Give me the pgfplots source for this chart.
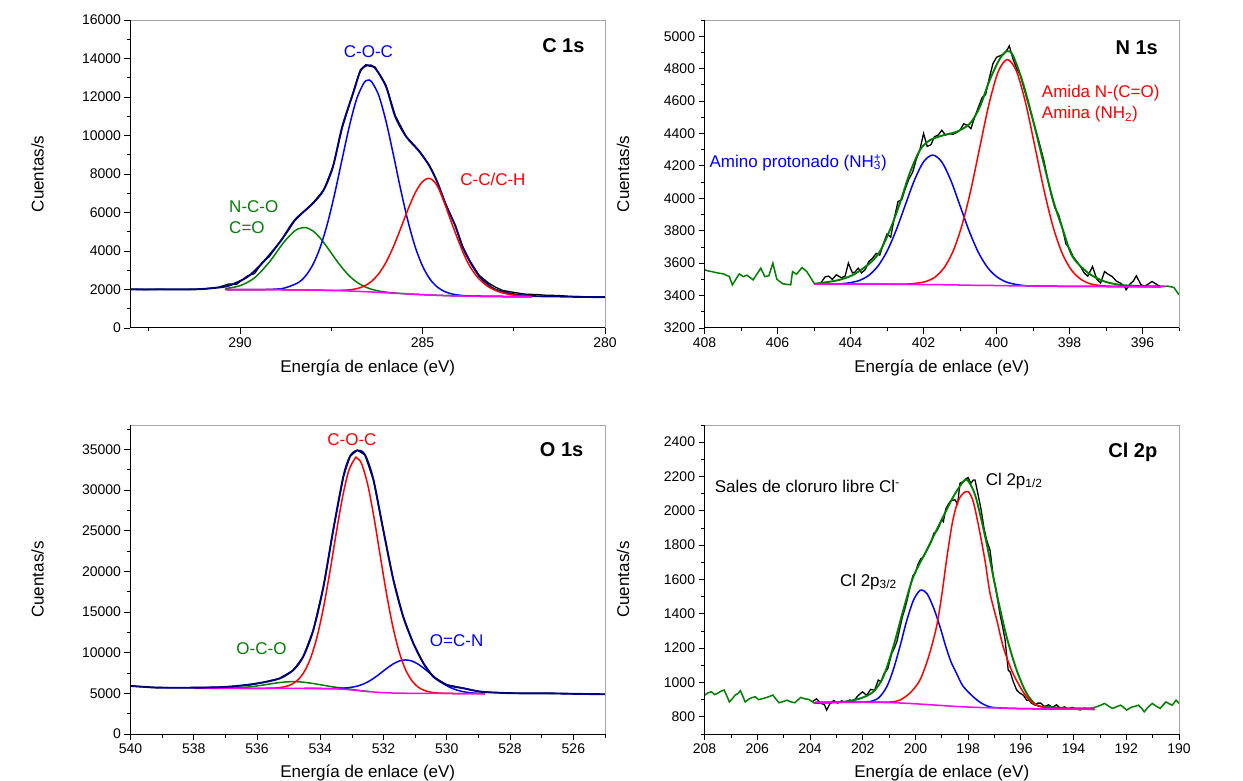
\documentclass[border=0pt]{standalone}
\usepackage{fontspec}
\setmainfont{Liberation Sans}
\usepackage{pgfplots}
\pgfplotsset{compat=1.18}
\definecolor{navyc}{RGB}{0,0,128}
\definecolor{greenc}{RGB}{0,128,0}
\definecolor{bluec}{RGB}{0,0,255}
\definecolor{redc}{RGB}{255,0,0}
\definecolor{magc}{RGB}{255,0,255}
\pgfplotsset{xps/.style={
  scale only axis, x dir=reverse, axis line style={draw=none},
  tick align=outside, xtick pos=bottom, ytick pos=left,
  major tick length=6pt, minor tick length=3.5pt,
  tick style={black, line width=0.8pt},
  tick label style={font=\fontsize{14}{16}\selectfont},
  label style={font=\fontsize{17}{20}\selectfont},
  scaled ticks=false,
  /pgf/number format/1000 sep={},
  /pgf/number format/assume math mode=true,
  ylabel={Cuentas/s}, xlabel={Energía de enlace (eV)},
}}
\tikzset{
  comp/.style={line width=1.5pt, smooth},
  env/.style={line width=1.9pt, smooth},
  dat/.style={line width=1.3pt, black},
  ann/.style={font=\fontsize{17}{20}\selectfont, inner sep=0pt},
  ttl/.style={font=\bfseries\fontsize{20}{24}\selectfont, inner sep=0pt},
}
\newcommand{\frameaxis}[1]{%
  \draw[black!35, line width=0.7pt] (#1.north west) -- (#1.north east) -- (#1.south east);
  \draw[black, line width=1pt] (#1.north west) -- (#1.south west) -- (#1.south east);}
\begin{document}
\begin{tikzpicture}
\useasboundingbox (0,0) rectangle (1243pt,780pt);
% ---------------- C 1s ----------------
\begin{axis}[xps, name=c1s, at={(130.5pt,452pt)}, anchor=south west,
  width=474.5pt, height=308pt, xmin=280, xmax=293, ymin=0, ymax=16000,
  xtick={280,285,290}, minor xtick={282.5,287.5,292.5},
  ytick={0,2000,...,16000}, minor ytick={1000,3000,...,15000},
  ylabel style={at={(axis description cs:-0.196,0.5)}, anchor=center},
  xlabel style={at={(axis description cs:0.5,-0.13)}, anchor=center}]
\addplot[dat] coordinates {(293.0,2020) (292.6,1990) (292.2,2010) (291.8,1995) (291.4,2005) (291.0,2030) (290.6,2110) (290.3,2290) (290.1,2260) (289.8,2700) (289.6,2830) (289.4,3380) (289.2,3700) (288.9,4500) (288.7,5000) (288.5,5580) (288.3,5950) (288.0,6500) (287.8,6950) (287.7,7180) (287.45,8400) (287.2,10400) (286.9,12250) (286.7,13420) (286.55,13680) (286.45,13600) (286.3,13560) (286.0,12600) (285.75,11050) (285.45,9950) (285.1,9230) (284.82,8470) (284.6,7620) (284.36,6420) (284.1,5320) (283.91,4280) (283.7,3480) (283.45,2740) (283.2,2350) (283.0,2120) (282.8,1950) (282.5,1850) (282.2,1760) (281.9,1740) (281.6,1700) (281.3,1690) (281.0,1650) (280.6,1620) (280.3,1610) (280.0,1600)};
\addplot[env, navyc] coordinates {(293.0,2010) (292.0,2005) (291.2,2010) (290.7,2080) (290.3,2200) (289.8,2650) (289.4,3350) (288.9,4480) (288.5,5600) (288.0,6480) (287.7,7200) (287.45,8400) (287.2,10450) (286.9,12200) (286.7,13350) (286.5,13650) (286.3,13500) (286.0,12550) (285.75,11000) (285.45,9950) (285.1,9200) (284.82,8450) (284.6,7600) (284.36,6400) (284.1,5300) (283.91,4250) (283.7,3450) (283.45,2700) (283.2,2250) (282.99,1990) (282.54,1770) (282.0,1660) (281.4,1640) (280.7,1615) (280.0,1600)};
\addplot[comp, greenc] coordinates {(290.4,2048) (290.0,2196) (289.6,2610) (289.2,3417) (288.8,4451) (288.5,5047) (288.35,5180) (288.2,5218) (288.0,5040) (287.8,4663) (287.6,4165) (287.4,3625) (287.2,3123) (287.0,2700) (286.8,2382) (286.6,2160) (286.4,2015) (286.2,1922) (286.0,1862) (285.8,1824) (285.6,1795) (285.4,1772) (285.0,1732) (284.5,1692) (284.0,1665) (283.0,1640) (282.0,1625)};
\addplot[comp, bluec] coordinates {(290.4,2000) (290.0,1998) (289.6,1997) (289.2,2005) (288.8,2066) (288.4,2360) (288.2,2713) (288.0,3303) (287.8,4203) (287.6,5453) (287.4,7024) (287.2,8788) (287.0,10511) (286.8,11923) (286.6,12747) (286.5,12870) (286.4,12808) (286.2,12092) (286.0,10740) (285.8,9022) (285.6,7213) (285.4,5562) (285.2,4214) (285.0,3219) (284.8,2550) (284.6,2136) (284.4,1898) (284.2,1770) (284.0,1705) (283.8,1674) (283.6,1657) (283.4,1649) (283.2,1644) (282.8,1636) (282.4,1630) (282.0,1625)};
\addplot[comp, redc] coordinates {(290.4,2000) (289.0,1989) (288.0,1970) (287.6,1958) (287.4,1955) (287.2,1961) (287.0,1982) (286.8,2043) (286.6,2175) (286.4,2418) (286.2,2818) (286.0,3412) (285.8,4210) (285.6,5161) (285.4,6151) (285.2,7022) (285.0,7603) (284.8,7772) (284.6,7400) (284.4,6500) (284.2,5450) (284.0,4450) (283.8,3550) (283.6,2900) (283.4,2450) (283.2,2150) (283.0,1950) (282.8,1820) (282.6,1740) (282.4,1690) (282.0,1640)};
\addplot[comp, magc] coordinates {(290.4,2000) (290.0,1998) (289.6,1995) (289.2,1992) (288.8,1986) (288.4,1980) (288.0,1970) (287.6,1955) (287.2,1935) (286.8,1905) (286.4,1872) (286.0,1830) (285.6,1790) (285.2,1750) (284.8,1714) (284.4,1686) (284.0,1665) (283.6,1652) (283.2,1644) (282.8,1636) (282.4,1630) (282.0,1625)};
\node[ttl] at (axis cs:281.14,14666) {C 1s};
\node[ann, text=bluec] at (axis cs:286.48,14354) {C-O-C};
\node[ann, text=redc] at (axis cs:283.07,7741) {C-C/C-H};
\node[ann, text=greenc, anchor=west] at (axis cs:290.3,6286) {N-C-O};
\node[ann, text=greenc, anchor=west] at (axis cs:290.3,5195) {C=O};
\end{axis}
\frameaxis{c1s}
% ---------------- N 1s ----------------
\begin{axis}[xps, name=n1s, at={(704.6pt,452pt)}, anchor=south west,
  width=474.4pt, height=308pt, xmin=395, xmax=408, ymin=3200, ymax=5100,
  xtick={396,398,...,408}, minor xtick={395,397,...,407},
  ytick={3200,3400,...,5000}, minor ytick={3300,3500,...,5100},
  ylabel style={at={(axis description cs:-0.172,0.5)}, anchor=center},
  xlabel style={at={(axis description cs:0.5,-0.13)}, anchor=center}]
\addplot[dat] coordinates {(404.95,3470) (404.82,3477) (404.7,3515) (404.6,3520) (404.5,3500) (404.39,3528) (404.25,3510) (404.15,3520) (404.06,3600) (403.95,3540) (403.88,3545) (403.79,3569) (403.7,3540) (403.6,3560) (403.5,3610) (403.4,3630) (403.3,3660) (403.2,3650) (403.1,3720) (403.0,3780) (402.9,3760) (402.8,3880) (402.7,3980) (402.6,3990) (402.5,4060) (402.4,4120) (402.3,4160) (402.2,4240) (402.1,4300) (402.0,4400) (401.9,4320) (401.8,4330) (401.7,4380) (401.6,4390) (401.5,4420) (401.4,4390) (401.3,4400) (401.2,4395) (401.1,4405) (401.0,4420) (400.9,4460) (400.8,4450) (400.7,4430) (400.6,4500) (400.5,4560) (400.4,4620) (400.3,4640) (400.2,4740) (400.1,4830) (400.0,4870) (399.9,4880) (399.8,4890) (399.7,4920) (399.65,4940) (399.55,4860) (399.45,4800) (399.35,4760) (399.2,4640) (399.0,4480) (398.85,4360) (398.7,4230) (398.6,4120) (398.5,4020) (398.4,3940) (398.3,3900) (398.2,3820) (398.1,3720) (398.0,3690) (397.9,3640) (397.8,3610) (397.7,3580) (397.6,3540) (397.5,3520) (397.37,3579) (397.25,3500) (397.15,3477) (397.04,3548) (396.93,3530) (396.83,3517) (396.72,3490) (396.61,3477) (396.5,3460) (396.45,3436) (396.35,3470) (396.25,3490) (396.17,3522) (396.05,3470) (395.96,3456) (395.85,3470) (395.74,3487) (395.62,3470) (395.52,3456) (395.4,3458)};
\addplot[line width=1.5pt, greenc] coordinates {(408.0,3559) (407.9,3552) (407.81,3548) (407.65,3540) (407.49,3534) (407.32,3517) (407.24,3466) (407.05,3534) (406.94,3517) (406.84,3526) (406.67,3497) (406.46,3569) (406.35,3517) (406.24,3522) (406.13,3600) (406.02,3501) (405.86,3473) (405.64,3466) (405.59,3548) (405.48,3532) (405.33,3573) (405.2,3548) (404.99,3473)};
\addplot[env, greenc] coordinates {(404.99,3473) (404.38,3493) (403.93,3528) (403.47,3600) (403.2,3671) (402.92,3805) (402.65,3969) (402.38,4154) (402.1,4297) (401.83,4358) (401.46,4389) (401.1,4410) (400.73,4461) (400.46,4563) (400.19,4728) (399.91,4861) (399.71,4908) (399.55,4881) (399.27,4707) (399.0,4481) (398.73,4235) (398.45,3989) (398.18,3805) (397.92,3641) (397.48,3538) (397.04,3487) (396.61,3466) (396.17,3460) (395.5,3456)};
\addplot[line width=1.5pt, greenc] coordinates {(395.5,3456) (395.3,3458) (395.14,3450) (395.0,3405)};
\addplot[comp, bluec] coordinates {(405.0,3470) (404.5,3471) (404.25,3473) (404.0,3480) (403.75,3494) (403.5,3525) (403.25,3582) (403.0,3674) (402.75,3804) (402.5,3959) (402.25,4112) (402.0,4225) (401.75,4267) (401.5,4224) (401.25,4109) (401.0,3954) (400.75,3798) (400.5,3667) (400.25,3574) (400.0,3517) (399.75,3485) (399.5,3470) (399.25,3462) (399.0,3459) (398.0,3457) (397.0,3456) (395.5,3455)};
\addplot[comp, redc] coordinates {(405.0,3470) (403.2,3470) (402.7,3470) (402.45,3471) (402.2,3476) (401.95,3486) (401.7,3512) (401.45,3568) (401.2,3669) (400.95,3831) (400.7,4056) (400.45,4325) (400.2,4588) (399.95,4784) (399.7,4856) (399.45,4782) (399.2,4585) (398.95,4320) (398.7,4051) (398.45,3823) (398.2,3660) (397.95,3558) (397.7,3502) (397.45,3474) (397.2,3463) (396.95,3458) (396.7,3457) (395.5,3455)};
\addplot[comp, magc] coordinates {(405.0,3470) (404.0,3470) (403.0,3470) (402.5,3469) (402.0,3468) (401.5,3467) (401.0,3465) (400.5,3463) (400.0,3462) (399.5,3460) (399.0,3459) (398.0,3457) (397.0,3456) (396.0,3455) (395.4,3455)};
\node[ttl] at (axis cs:396.16,4932) {N 1s};
\node[ann, text=redc, anchor=west] at (axis cs:398.76,4649) {Amida N-(C=O)};
\node[ann, text=redc, anchor=west] at (axis cs:398.76,4517) {Amina (NH\textsubscript{2})};
\node[ann, text=bluec, anchor=west] at (axis cs:407.87,4221) {Amino protonado (NH$\vphantom{H}$\rlap{\textsuperscript{+}}\textsubscript{3})};
\end{axis}
\frameaxis{n1s}
% ---------------- O 1s ----------------
\begin{axis}[xps, name=o1s, at={(130.5pt,46pt)}, anchor=south west,
  width=474.5pt, height=309pt, xmin=525, xmax=540, ymin=0, ymax=38000,
  xtick={526,528,...,540}, minor xtick={525,527,...,539},
  ytick={0,5000,...,35000}, minor ytick={2500,7500,...,37500},
  ylabel style={at={(axis description cs:-0.196,0.5)}, anchor=center},
  xlabel style={at={(axis description cs:0.5,-0.126)}, anchor=center}]
\addplot[dat] coordinates {(540.0,5950) (539.8,5850) (539.6,5800) (539.4,5740) (539.2,5700) (539.0,5720) (538.6,5680) (538.2,5690) (537.8,5720) (537.4,5740) (537.0,5800) (536.6,5900) (536.2,6050) (535.8,6350) (535.3,6830) (534.85,7850) (534.54,9500) (534.22,12780) (533.9,18100) (533.59,25100) (533.27,31650) (533.06,34150) (532.83,34900) (532.59,34330) (532.32,31250) (532.01,25100) (531.69,18950) (531.38,14430) (531.06,11150) (530.74,8700) (530.43,7050) (530.0,6050) (529.48,5640) (529.0,5250) (528.6,5120) (528.2,5060) (527.8,5020) (527.4,5000) (527.0,5010) (526.6,4990) (526.2,4950) (525.8,4920) (525.4,4900) (525.0,4890)};
\addplot[comp, greenc] coordinates {(537.45,5619) (537.05,5634) (536.65,5681) (536.45,5727) (536.25,5795) (536.05,5885) (535.85,5994) (535.65,6117) (535.45,6240) (535.25,6345) (535.05,6414) (534.85,6438) (534.65,6410) (534.45,6335) (534.25,6224) (534.05,6094) (533.85,5959) (533.65,5830) (533.45,5717) (533.25,5612) (533.05,5506) (532.85,5396) (532.65,5299) (532.45,5219)};
\addplot[comp, bluec] coordinates {(534.5,5603) (533.9,5595) (533.7,5593) (533.5,5605) (533.3,5638) (533.1,5703) (532.9,5827) (532.7,6052) (532.5,6403) (532.3,6885) (532.1,7463) (531.9,8069) (531.7,8609) (531.5,8983) (531.3,9110) (531.1,8966) (530.9,8571) (530.7,8002) (530.5,7351) (530.3,6716) (530.1,6166) (529.9,5735) (529.7,5425) (529.5,5218) (529.3,5092) (529.1,5020) (528.9,4981) (528.8,4968)};
\addplot[comp, redc] coordinates {(536.5,5617) (535.9,5619) (535.5,5644) (535.3,5700) (535.1,5833) (534.9,6117) (534.7,6681) (534.5,7705) (534.3,9409) (534.1,11989) (533.9,15522) (533.7,19871) (533.5,24616) (533.3,29062) (533.1,32390) (532.9,33911) (532.85,33960) (532.7,33291) (532.5,30656) (532.3,26561) (532.1,21787) (531.9,17105) (531.7,13088) (531.5,10007) (531.3,7867) (531.1,6524) (530.9,5748) (530.7,5340) (530.5,5138) (530.3,5047) (530.1,5008) (529.8,4980) (529.0,4955) (528.8,4950)};
\addplot[comp, magc] coordinates {(538.0,5620) (537.0,5618) (536.0,5615) (535.0,5610) (534.6,5605) (534.2,5597) (534.0,5590) (533.8,5575) (533.6,5555) (533.4,5530) (533.2,5490) (533.0,5420) (532.8,5340) (532.6,5260) (532.4,5190) (532.2,5130) (532.0,5085) (531.8,5050) (531.6,5030) (531.4,5015) (531.2,5008) (531.0,5003) (530.5,4995) (530.0,4985) (529.5,4970) (529.0,4955) (528.8,4950)};
\addplot[env, navyc] coordinates {(540.0,5909) (539.5,5780) (539.1,5700) (538.5,5690) (537.9,5700) (537.3,5740) (536.85,5826) (536.3,6050) (535.8,6350) (535.27,6850) (534.85,7878) (534.54,9519) (534.22,12800) (533.9,18133) (533.59,25112) (533.27,31675) (533.06,34136) (532.83,34875) (532.59,34345) (532.32,31267) (532.01,25112) (531.69,18957) (531.38,14440) (531.06,11165) (530.74,8703) (530.43,7054) (530.0,6032) (529.48,5626) (528.95,5207) (528.4,5080) (527.87,5010) (527.0,5000) (526.62,4990) (525.8,4930) (525.0,4887)};
\node[ttl] at (axis cs:526.37,34960) {O 1s};
\node[ann, text=redc] at (axis cs:533.0,36191) {C-O-C};
\node[ann, text=greenc] at (axis cs:535.86,10550) {O-C-O};
\node[ann, text=bluec] at (axis cs:529.69,11485) {O=C-N};
\end{axis}
\frameaxis{o1s}
% ---------------- Cl 2p ----------------
\begin{axis}[xps, name=cl2p, at={(704.6pt,46pt)}, anchor=south west,
  width=474.4pt, height=309pt, xmin=190, xmax=208, ymin=700, ymax=2500,
  xtick={190,192,...,208}, minor xtick={191,193,...,207},
  ytick={800,1000,...,2400}, minor ytick={700,900,...,2500},
  ylabel style={at={(axis description cs:-0.172,0.5)}, anchor=center},
  xlabel style={at={(axis description cs:0.5,-0.126)}, anchor=center}]
\addplot[dat] coordinates {(203.9,890) (203.75,905) (203.6,880) (203.45,870) (203.37,839) (203.25,875) (203.1,895) (202.95,880) (202.8,893) (202.65,885) (202.5,898) (202.35,890) (202.2,920) (202.01,946) (201.85,925) (201.7,960) (201.55,955) (201.41,1014) (201.3,1005) (201.2,1050) (201.05,1080) (200.9,1170) (200.8,1200) (200.7,1240) (200.6,1310) (200.5,1380) (200.4,1430) (200.3,1490) (200.2,1560) (200.1,1620) (200.0,1640) (199.9,1690) (199.8,1720) (199.7,1730) (199.6,1760) (199.5,1790) (199.4,1820) (199.3,1870) (199.2,1880) (199.1,1910) (199.0,1950) (198.94,1937) (198.85,2010) (198.75,2040) (198.65,2060) (198.5,2064) (198.4,2040) (198.31,2161) (198.2,2170) (198.1,2185) (198.0,2194) (197.9,2160) (197.8,2180) (197.74,2180) (197.6,2077) (197.5,2000) (197.4,1900) (197.3,1830) (197.17,1772) (197.05,1620) (196.95,1550) (196.8,1403) (196.7,1330) (196.6,1250) (196.48,1072) (196.4,1060) (196.3,1010) (196.16,956) (196.05,940) (195.9,925) (195.78,897) (195.69,897) (195.6,880) (195.46,868) (195.35,880) (195.25,880) (195.1,860) (194.95,870) (194.8,855) (194.65,870) (194.5,850) (194.35,858) (194.2,845) (194.05,855) (193.9,845) (193.75,840) (193.6,850) (193.45,845) (193.3,850)};
\addplot[line width=1.5pt, greenc] coordinates {(208.0,926) (207.87,940) (207.74,946) (207.62,930) (207.52,936) (207.4,948) (207.26,956) (207.15,920) (207.06,887) (206.95,905) (206.84,927) (206.74,935) (206.64,952) (206.55,920) (206.46,887) (206.3,905) (206.2,912) (206.08,917) (205.95,900) (205.78,907) (205.6,915) (205.41,927) (205.3,905) (205.18,882) (205.0,890) (204.88,897) (204.75,888) (204.58,882) (204.45,900) (204.35,913) (204.2,905) (204.05,902) (203.82,878)};
\addplot[env, greenc] coordinates {(203.82,880) (203.3,883) (202.74,887) (202.1,907) (201.6,946) (201.22,1033) (200.84,1208) (200.46,1422) (200.08,1616) (199.57,1772) (199.07,1928) (198.56,2083) (198.12,2180) (197.9,2150) (197.68,2063) (197.3,1811) (196.92,1520) (196.54,1266) (196.16,1072) (195.78,936) (195.4,868) (195.0,858) (194.5,852) (193.9,849) (193.3,850)};
\addplot[line width=1.5pt, greenc] coordinates {(193.3,850) (193.1,860) (192.97,868) (192.82,878) (192.65,860) (192.52,849) (192.35,860) (192.22,868) (192.1,855) (191.99,839) (191.88,850) (191.77,858) (191.65,862) (191.54,868) (191.42,850) (191.32,829) (191.15,860) (191.01,878) (190.85,860) (190.71,849) (190.6,870) (190.49,887) (190.36,875) (190.26,868) (190.11,897) (190.0,878)};
\addplot[comp, bluec] coordinates {(203.8,884) (202.5,886) (201.8,887) (201.4,910) (201.09,975) (200.85,1070) (200.59,1208) (200.35,1350) (200.1,1470) (199.9,1525) (199.76,1539) (199.55,1515) (199.3,1430) (199.07,1325) (198.85,1210) (198.65,1120) (198.44,1053) (198.2,980) (197.81,917) (197.5,880) (197.17,858) (196.8,852) (196.3,849) (195.5,847) (194.5,845) (193.2,844)};
\addplot[comp, redc] coordinates {(203.8,884) (202.0,885) (201.0,886) (200.6,897) (200.2,940) (199.83,1014) (199.5,1150) (199.2,1325) (199.0,1510) (198.82,1714) (198.6,1930) (198.4,2050) (198.2,2100) (198.0,2112) (197.8,2050) (197.55,1869) (197.35,1700) (197.17,1520) (196.9,1355) (196.67,1208) (196.35,1070) (196.03,975) (195.8,920) (195.53,878) (195.2,858) (194.8,850) (194.0,846) (193.2,844)};
\addplot[comp, magc] coordinates {(203.8,884) (203.0,885) (202.0,885) (201.5,884) (201.0,883) (200.5,880) (200.0,876) (199.5,871) (199.0,866) (198.5,861) (198.0,857) (197.5,854) (197.0,852) (196.5,850) (196.0,848) (195.0,846) (194.0,845) (193.2,844)};
\node[ttl] at (axis cs:191.75,2339) {Cl 2p};
\node[ann, anchor=west] at (axis cs:207.62,2141) {Sales de cloruro libre Cl\textsuperscript{-}};
\node[ann, anchor=west] at (axis cs:202.87,1587) {Cl 2p\textsubscript{3/2}};
\node[ann, anchor=west] at (axis cs:197.34,2176) {Cl 2p\textsubscript{1/2}};
\end{axis}
\frameaxis{cl2p}
\end{tikzpicture}
\end{document}
